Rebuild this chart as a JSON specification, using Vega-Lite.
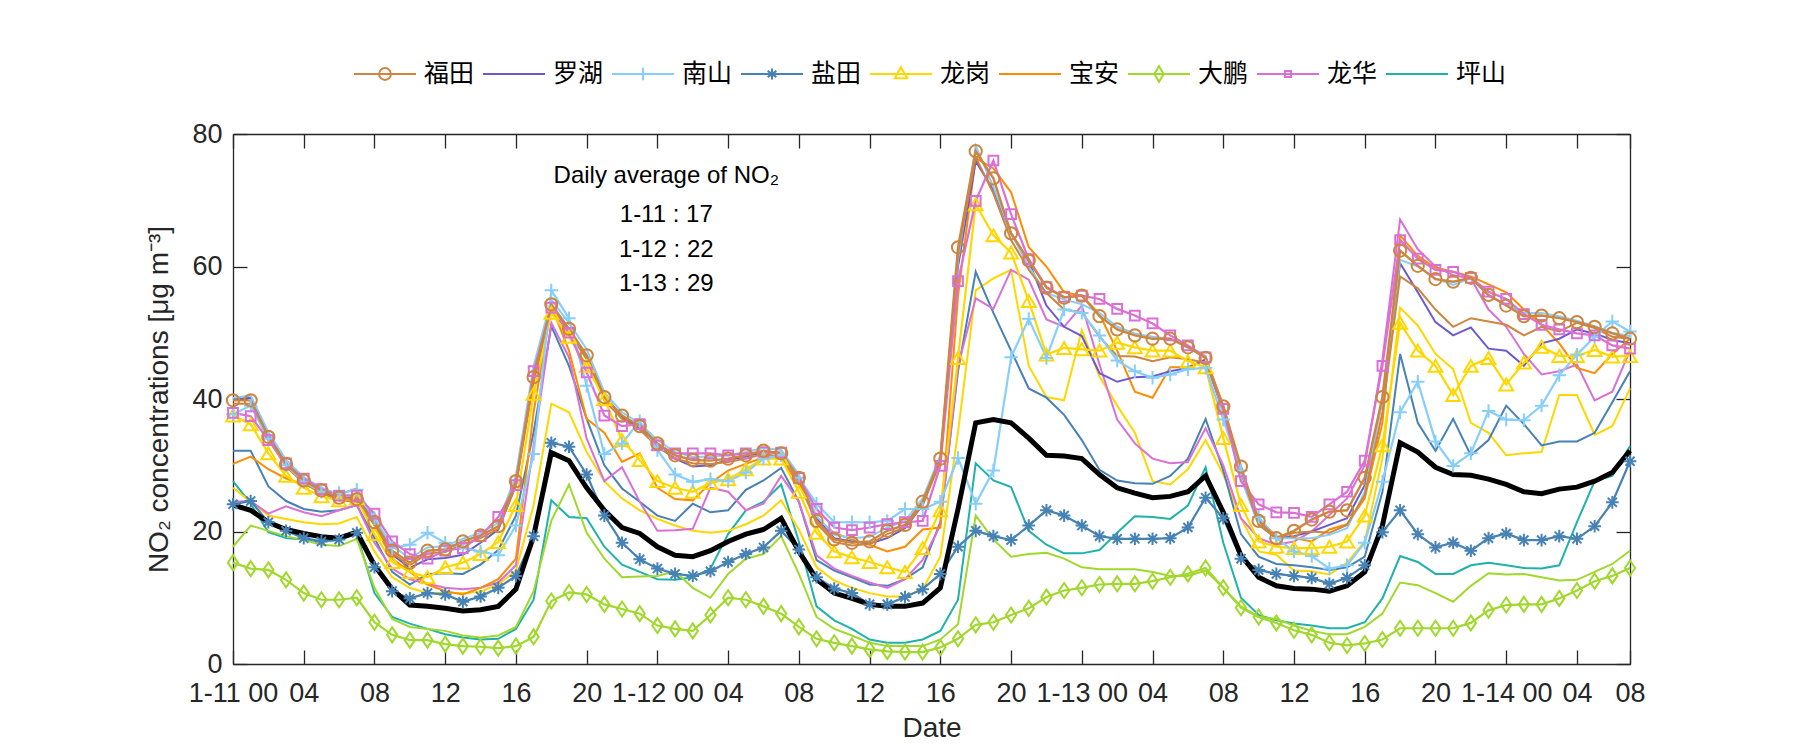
{
"$schema":"https://vega.github.io/schema/vega-lite/v6.json",
"width":1397,"height":530,
"autosize":{"type":"none"},
"padding":{"left":233,"top":134,"right":170,"bottom":86},
"background":"white",
"datasets":{
"F1":[{"hour":0,"no2":39.8},{"hour":1,"no2":39.8},{"hour":2,"no2":34.3},{"hour":3,"no2":30.2},{"hour":4,"no2":27.7},{"hour":5,"no2":26.2},{"hour":6,"no2":25.1},{"hour":7,"no2":24.9},{"hour":8,"no2":21.4},{"hour":9,"no2":17.1},{"hour":10,"no2":15.3},{"hour":11,"no2":17.1},{"hour":12,"no2":17.3},{"hour":13,"no2":18.5},{"hour":14,"no2":19.4},{"hour":15,"no2":20.8},{"hour":16,"no2":27.6},{"hour":17,"no2":43.3},{"hour":18,"no2":54.3},{"hour":19,"no2":50.6},{"hour":20,"no2":46.6},{"hour":21,"no2":40.3},{"hour":22,"no2":37.5},{"hour":23,"no2":35.9},{"hour":24,"no2":33.3},{"hour":25,"no2":31.5},{"hour":26,"no2":30.8},{"hour":27,"no2":30.7},{"hour":28,"no2":31.0},{"hour":29,"no2":31.5},{"hour":30,"no2":32.2},{"hour":31,"no2":31.8},{"hour":32,"no2":28.1},{"hour":33,"no2":21.6},{"hour":34,"no2":18.8},{"hour":35,"no2":18.3},{"hour":36,"no2":18.5},{"hour":37,"no2":20.1},{"hour":38,"no2":21.0},{"hour":39,"no2":24.5},{"hour":40,"no2":31.0},{"hour":41,"no2":62.9},{"hour":42,"no2":77.4},{"hour":43,"no2":73.3},{"hour":44,"no2":65.0},{"hour":45,"no2":60.9},{"hour":46,"no2":56.8},{"hour":47,"no2":55.3},{"hour":48,"no2":55.6},{"hour":49,"no2":52.5},{"hour":50,"no2":50.5},{"hour":51,"no2":49.6},{"hour":52,"no2":49.1},{"hour":53,"no2":49.1},{"hour":54,"no2":47.8},{"hour":55,"no2":46.2},{"hour":56,"no2":38.9},{"hour":57,"no2":29.8},{"hour":58,"no2":21.6},{"hour":59,"no2":19.0},{"hour":60,"no2":20.1},{"hour":61,"no2":21.8},{"hour":62,"no2":23.0},{"hour":63,"no2":23.2},{"hour":64,"no2":28.1},{"hour":65,"no2":40.3},{"hour":66,"no2":62.4},{"hour":67,"no2":60.1},{"hour":68,"no2":58.1},{"hour":69,"no2":57.7},{"hour":70,"no2":58.3},{"hour":71,"no2":55.7},{"hour":72,"no2":54.1},{"hour":73,"no2":52.5},{"hour":74,"no2":52.6},{"hour":75,"no2":52.2},{"hour":76,"no2":51.6},{"hour":77,"no2":50.9},{"hour":78,"no2":49.9},{"hour":79,"no2":49.1}],
"F2":[{"hour":0,"no2":39.3},{"hour":1,"no2":39.3},{"hour":2,"no2":33.9},{"hour":3,"no2":29.8},{"hour":4,"no2":27.3},{"hour":5,"no2":25.8},{"hour":6,"no2":24.7},{"hour":7,"no2":24.5},{"hour":8,"no2":21.0},{"hour":9,"no2":16.7},{"hour":10,"no2":14.9},{"hour":11,"no2":16.7},{"hour":12,"no2":16.9},{"hour":13,"no2":18.1},{"hour":14,"no2":19.0},{"hour":15,"no2":20.4},{"hour":16,"no2":27.0},{"hour":17,"no2":42.5},{"hour":18,"no2":53.5},{"hour":19,"no2":50.0},{"hour":20,"no2":46.0},{"hour":21,"no2":39.8},{"hour":22,"no2":37.0},{"hour":23,"no2":35.4},{"hour":24,"no2":32.8},{"hour":25,"no2":31.0},{"hour":26,"no2":30.3},{"hour":27,"no2":30.2},{"hour":28,"no2":30.5},{"hour":29,"no2":31.0},{"hour":30,"no2":31.7},{"hour":31,"no2":31.3},{"hour":32,"no2":27.6},{"hour":33,"no2":21.2},{"hour":34,"no2":18.4},{"hour":35,"no2":17.9},{"hour":36,"no2":18.1},{"hour":37,"no2":19.6},{"hour":38,"no2":20.6},{"hour":39,"no2":24.0},{"hour":40,"no2":30.5},{"hour":41,"no2":62.0},{"hour":42,"no2":76.5},{"hour":43,"no2":71.0},{"hour":44,"no2":64.0},{"hour":45,"no2":59.5},{"hour":46,"no2":56.0},{"hour":47,"no2":53.5},{"hour":48,"no2":53.1},{"hour":49,"no2":49.4},{"hour":50,"no2":46.5},{"hour":51,"no2":46.4},{"hour":52,"no2":45.7},{"hour":53,"no2":46.3},{"hour":54,"no2":46.0},{"hour":55,"no2":45.5},{"hour":56,"no2":38.5},{"hour":57,"no2":29.0},{"hour":58,"no2":21.0},{"hour":59,"no2":19.0},{"hour":60,"no2":19.8},{"hour":61,"no2":20.0},{"hour":62,"no2":19.8},{"hour":63,"no2":21.0},{"hour":64,"no2":25.5},{"hour":65,"no2":38.0},{"hour":66,"no2":58.5},{"hour":67,"no2":56.7},{"hour":68,"no2":53.5},{"hour":69,"no2":50.9},{"hour":70,"no2":52.2},{"hour":71,"no2":51.7},{"hour":72,"no2":51.2},{"hour":73,"no2":49.6},{"hour":74,"no2":50.9},{"hour":75,"no2":50.2},{"hour":76,"no2":51.5},{"hour":77,"no2":50.7},{"hour":78,"no2":49.4},{"hour":79,"no2":49.1}],
"R":[{"hour":0,"no2":40.0},{"hour":1,"no2":40.2},{"hour":2,"no2":34.5},{"hour":3,"no2":30.3},{"hour":4,"no2":27.8},{"hour":5,"no2":26.0},{"hour":6,"no2":25.0},{"hour":7,"no2":25.2},{"hour":8,"no2":21.5},{"hour":9,"no2":16.5},{"hour":10,"no2":14.5},{"hour":11,"no2":15.8},{"hour":12,"no2":16.0},{"hour":13,"no2":16.5},{"hour":14,"no2":18.3},{"hour":15,"no2":20.3},{"hour":16,"no2":27.0},{"hour":17,"no2":44.0},{"hour":18,"no2":53.5},{"hour":19,"no2":50.5},{"hour":20,"no2":46.5},{"hour":21,"no2":40.5},{"hour":22,"no2":37.3},{"hour":23,"no2":35.5},{"hour":24,"no2":33.0},{"hour":25,"no2":31.0},{"hour":26,"no2":29.8},{"hour":27,"no2":30.0},{"hour":28,"no2":30.8},{"hour":29,"no2":31.3},{"hour":30,"no2":32.0},{"hour":31,"no2":31.8},{"hour":32,"no2":28.0},{"hour":33,"no2":22.0},{"hour":34,"no2":19.0},{"hour":35,"no2":18.5},{"hour":36,"no2":18.2},{"hour":37,"no2":19.0},{"hour":38,"no2":20.5},{"hour":39,"no2":24.0},{"hour":40,"no2":31.0},{"hour":41,"no2":60.0},{"hour":42,"no2":75.9},{"hour":43,"no2":71.5},{"hour":44,"no2":65.0},{"hour":45,"no2":60.8},{"hour":46,"no2":54.1},{"hour":47,"no2":50.9},{"hour":48,"no2":49.5},{"hour":49,"no2":43.9},{"hour":50,"no2":42.6},{"hour":51,"no2":43.3},{"hour":52,"no2":43.4},{"hour":53,"no2":44.2},{"hour":54,"no2":44.7},{"hour":55,"no2":45.9},{"hour":56,"no2":38.0},{"hour":57,"no2":29.0},{"hour":58,"no2":21.6},{"hour":59,"no2":18.9},{"hour":60,"no2":19.3},{"hour":61,"no2":20.0},{"hour":62,"no2":21.0},{"hour":63,"no2":22.0},{"hour":64,"no2":27.0},{"hour":65,"no2":40.0},{"hour":66,"no2":60.5},{"hour":67,"no2":56.1},{"hour":68,"no2":51.6},{"hour":69,"no2":49.6},{"hour":70,"no2":50.8},{"hour":71,"no2":47.6},{"hour":72,"no2":47.3},{"hour":73,"no2":45.0},{"hour":74,"no2":48.4},{"hour":75,"no2":49.1},{"hour":76,"no2":50.5},{"hour":77,"no2":49.9},{"hour":78,"no2":48.9},{"hour":79,"no2":48.4}],
"N1":[{"hour":0,"no2":37.7},{"hour":1,"no2":39.0},{"hour":2,"no2":34.0},{"hour":3,"no2":30.0},{"hour":4,"no2":27.5},{"hour":5,"no2":26.0},{"hour":6,"no2":25.8},{"hour":7,"no2":26.3},{"hour":8,"no2":22.0},{"hour":9,"no2":17.5},{"hour":10,"no2":18.0},{"hour":11,"no2":19.8},{"hour":12,"no2":18.3},{"hour":13,"no2":17.5},{"hour":14,"no2":17.0},{"hour":15,"no2":16.4},{"hour":16,"no2":20.9},{"hour":17,"no2":31.7},{"hour":18,"no2":56.4},{"hour":19,"no2":52.2},{"hour":20,"no2":42.0},{"hour":21,"no2":31.7},{"hour":22,"no2":33.3},{"hour":23,"no2":36.7},{"hour":24,"no2":32.3},{"hour":25,"no2":28.6},{"hour":26,"no2":27.5},{"hour":27,"no2":27.9},{"hour":28,"no2":27.6},{"hour":29,"no2":28.9},{"hour":30,"no2":31.0},{"hour":31,"no2":31.5},{"hour":32,"no2":28.1},{"hour":33,"no2":24.2},{"hour":34,"no2":21.4},{"hour":35,"no2":21.4},{"hour":36,"no2":21.4},{"hour":37,"no2":21.6},{"hour":38,"no2":23.4},{"hour":39,"no2":23.4},{"hour":40,"no2":24.5},{"hour":41,"no2":31.1},{"hour":42,"no2":24.2},{"hour":43,"no2":29.2},{"hour":44,"no2":46.3},{"hour":45,"no2":52.1},{"hour":46,"no2":46.2},{"hour":47,"no2":53.5},{"hour":48,"no2":53.0},{"hour":49,"no2":49.6},{"hour":50,"no2":45.8},{"hour":51,"no2":44.2},{"hour":52,"no2":43.2},{"hour":53,"no2":43.7},{"hour":54,"no2":44.5},{"hour":55,"no2":44.7},{"hour":56,"no2":36.9},{"hour":57,"no2":29.2},{"hour":58,"no2":22.2},{"hour":59,"no2":19.0},{"hour":60,"no2":17.0},{"hour":61,"no2":16.3},{"hour":62,"no2":14.4},{"hour":63,"no2":14.9},{"hour":64,"no2":18.3},{"hour":65,"no2":27.5},{"hour":66,"no2":38.0},{"hour":67,"no2":42.6},{"hour":68,"no2":33.6},{"hour":69,"no2":29.9},{"hour":70,"no2":31.8},{"hour":71,"no2":38.2},{"hour":72,"no2":36.9},{"hour":73,"no2":36.8},{"hour":74,"no2":39.0},{"hour":75,"no2":43.6},{"hour":76,"no2":46.7},{"hour":77,"no2":49.4},{"hour":78,"no2":51.7},{"hour":79,"no2":50.2}],
"N2":[{"hour":0,"no2":40.2},{"hour":1,"no2":40.5},{"hour":2,"no2":35.0},{"hour":3,"no2":30.8},{"hour":4,"no2":28.2},{"hour":5,"no2":26.6},{"hour":6,"no2":25.6},{"hour":7,"no2":25.5},{"hour":8,"no2":22.0},{"hour":9,"no2":17.8},{"hour":10,"no2":16.0},{"hour":11,"no2":17.6},{"hour":12,"no2":17.8},{"hour":13,"no2":18.9},{"hour":14,"no2":19.8},{"hour":15,"no2":21.3},{"hour":16,"no2":28.5},{"hour":17,"no2":45.0},{"hour":18,"no2":55.0},{"hour":19,"no2":51.5},{"hour":20,"no2":47.5},{"hour":21,"no2":41.0},{"hour":22,"no2":38.0},{"hour":23,"no2":36.3},{"hour":24,"no2":33.8},{"hour":25,"no2":32.0},{"hour":26,"no2":31.3},{"hour":27,"no2":31.3},{"hour":28,"no2":31.5},{"hour":29,"no2":32.0},{"hour":30,"no2":32.6},{"hour":31,"no2":32.3},{"hour":32,"no2":28.6},{"hour":33,"no2":22.3},{"hour":34,"no2":19.5},{"hour":35,"no2":19.0},{"hour":36,"no2":19.2},{"hour":37,"no2":20.6},{"hour":38,"no2":21.6},{"hour":39,"no2":25.0},{"hour":40,"no2":31.5},{"hour":41,"no2":61.0},{"hour":42,"no2":78.2},{"hour":43,"no2":72.0},{"hour":44,"no2":65.0},{"hour":45,"no2":60.0},{"hour":46,"no2":56.0},{"hour":47,"no2":55.0},{"hour":48,"no2":54.3},{"hour":49,"no2":53.0},{"hour":50,"no2":50.9},{"hour":51,"no2":49.9},{"hour":52,"no2":49.4},{"hour":53,"no2":49.1},{"hour":54,"no2":48.0},{"hour":55,"no2":46.5},{"hour":56,"no2":38.0},{"hour":57,"no2":28.0},{"hour":58,"no2":21.0},{"hour":59,"no2":19.0},{"hour":60,"no2":19.0},{"hour":61,"no2":19.0},{"hour":62,"no2":19.5},{"hour":63,"no2":20.5},{"hour":64,"no2":26.0},{"hour":65,"no2":40.0},{"hour":66,"no2":61.0},{"hour":67,"no2":60.0},{"hour":68,"no2":58.2},{"hour":69,"no2":57.2},{"hour":70,"no2":58.2},{"hour":71,"no2":55.6},{"hour":72,"no2":54.3},{"hour":73,"no2":53.0},{"hour":74,"no2":53.0},{"hour":75,"no2":52.5},{"hour":76,"no2":51.8},{"hour":77,"no2":51.0},{"hour":78,"no2":50.0},{"hour":79,"no2":49.5}],
"Y1":[{"hour":0,"no2":24.1},{"hour":1,"no2":24.6},{"hour":2,"no2":21.4},{"hour":3,"no2":20.1},{"hour":4,"no2":19.0},{"hour":5,"no2":18.5},{"hour":6,"no2":18.8},{"hour":7,"no2":19.8},{"hour":8,"no2":14.6},{"hour":9,"no2":11.0},{"hour":10,"no2":9.9},{"hour":11,"no2":10.7},{"hour":12,"no2":10.5},{"hour":13,"no2":9.4},{"hour":14,"no2":10.2},{"hour":15,"no2":11.5},{"hour":16,"no2":13.3},{"hour":17,"no2":19.3},{"hour":18,"no2":33.4},{"hour":19,"no2":32.8},{"hour":20,"no2":28.6},{"hour":21,"no2":22.4},{"hour":22,"no2":18.3},{"hour":23,"no2":15.8},{"hour":24,"no2":14.4},{"hour":25,"no2":13.6},{"hour":26,"no2":13.3},{"hour":27,"no2":14.0},{"hour":28,"no2":15.4},{"hour":29,"no2":16.6},{"hour":30,"no2":17.6},{"hour":31,"no2":20.1},{"hour":32,"no2":17.3},{"hour":33,"no2":13.1},{"hour":34,"no2":11.4},{"hour":35,"no2":10.7},{"hour":36,"no2":9.0},{"hour":37,"no2":9.0},{"hour":38,"no2":10.1},{"hour":39,"no2":11.3},{"hour":40,"no2":13.6},{"hour":41,"no2":17.7},{"hour":42,"no2":20.1},{"hour":43,"no2":19.3},{"hour":44,"no2":18.7},{"hour":45,"no2":20.9},{"hour":46,"no2":23.2},{"hour":47,"no2":22.4},{"hour":48,"no2":20.9},{"hour":49,"no2":19.3},{"hour":50,"no2":18.9},{"hour":51,"no2":18.9},{"hour":52,"no2":18.9},{"hour":53,"no2":19.0},{"hour":54,"no2":20.6},{"hour":55,"no2":25.1},{"hour":56,"no2":22.0},{"hour":57,"no2":15.9},{"hour":58,"no2":14.2},{"hour":59,"no2":13.6},{"hour":60,"no2":13.3},{"hour":61,"no2":13.0},{"hour":62,"no2":12.1},{"hour":63,"no2":13.0},{"hour":64,"no2":14.9},{"hour":65,"no2":19.9},{"hour":66,"no2":23.2},{"hour":67,"no2":19.6},{"hour":68,"no2":17.6},{"hour":69,"no2":18.3},{"hour":70,"no2":17.1},{"hour":71,"no2":19.0},{"hour":72,"no2":19.7},{"hour":73,"no2":18.7},{"hour":74,"no2":18.7},{"hour":75,"no2":19.3},{"hour":76,"no2":18.9},{"hour":77,"no2":20.8},{"hour":78,"no2":24.4},{"hour":79,"no2":30.6}],
"Y2":[{"hour":0,"no2":32.2},{"hour":1,"no2":32.2},{"hour":2,"no2":26.8},{"hour":3,"no2":24.6},{"hour":4,"no2":23.4},{"hour":5,"no2":23.0},{"hour":6,"no2":23.2},{"hour":7,"no2":24.0},{"hour":8,"no2":19.0},{"hour":9,"no2":13.9},{"hour":10,"no2":12.0},{"hour":11,"no2":13.6},{"hour":12,"no2":13.7},{"hour":13,"no2":13.6},{"hour":14,"no2":15.0},{"hour":15,"no2":17.2},{"hour":16,"no2":22.4},{"hour":17,"no2":35.0},{"hour":18,"no2":51.0},{"hour":19,"no2":45.0},{"hour":20,"no2":37.0},{"hour":21,"no2":30.0},{"hour":22,"no2":26.5},{"hour":23,"no2":24.5},{"hour":24,"no2":22.4},{"hour":25,"no2":21.6},{"hour":26,"no2":24.2},{"hour":27,"no2":22.9},{"hour":28,"no2":23.2},{"hour":29,"no2":26.3},{"hour":30,"no2":27.7},{"hour":31,"no2":29.6},{"hour":32,"no2":24.5},{"hour":33,"no2":15.7},{"hour":34,"no2":14.1},{"hour":35,"no2":13.1},{"hour":36,"no2":12.0},{"hour":37,"no2":11.8},{"hour":38,"no2":12.8},{"hour":39,"no2":14.6},{"hour":40,"no2":21.4},{"hour":41,"no2":44.2},{"hour":42,"no2":59.2},{"hour":43,"no2":53.0},{"hour":44,"no2":47.3},{"hour":45,"no2":41.6},{"hour":46,"no2":40.2},{"hour":47,"no2":37.6},{"hour":48,"no2":33.8},{"hour":49,"no2":29.3},{"hour":50,"no2":27.7},{"hour":51,"no2":27.3},{"hour":52,"no2":27.2},{"hour":53,"no2":28.4},{"hour":54,"no2":31.0},{"hour":55,"no2":37.0},{"hour":56,"no2":29.2},{"hour":57,"no2":19.6},{"hour":58,"no2":16.2},{"hour":59,"no2":15.1},{"hour":60,"no2":14.9},{"hour":61,"no2":14.6},{"hour":62,"no2":14.2},{"hour":63,"no2":14.6},{"hour":64,"no2":16.2},{"hour":65,"no2":26.0},{"hour":66,"no2":46.8},{"hour":67,"no2":36.4},{"hour":68,"no2":32.2},{"hour":69,"no2":37.0},{"hour":70,"no2":31.5},{"hour":71,"no2":33.8},{"hour":72,"no2":39.0},{"hour":73,"no2":36.2},{"hour":74,"no2":33.0},{"hour":75,"no2":33.6},{"hour":76,"no2":33.6},{"hour":77,"no2":34.9},{"hour":78,"no2":39.5},{"hour":79,"no2":44.2}],
"G1":[{"hour":0,"no2":37.5},{"hour":1,"no2":36.2},{"hour":2,"no2":31.8},{"hour":3,"no2":28.4},{"hour":4,"no2":26.6},{"hour":5,"no2":25.3},{"hour":6,"no2":24.7},{"hour":7,"no2":25.0},{"hour":8,"no2":19.6},{"hour":9,"no2":15.4},{"hour":10,"no2":13.9},{"hour":11,"no2":13.1},{"hour":12,"no2":14.6},{"hour":13,"no2":15.3},{"hour":14,"no2":16.6},{"hour":15,"no2":18.4},{"hour":16,"no2":24.0},{"hour":17,"no2":40.8},{"hour":18,"no2":53.0},{"hour":19,"no2":49.4},{"hour":20,"no2":45.0},{"hour":21,"no2":40.0},{"hour":22,"no2":33.8},{"hour":23,"no2":30.8},{"hour":24,"no2":27.6},{"hour":25,"no2":26.6},{"hour":26,"no2":26.0},{"hour":27,"no2":27.3},{"hour":28,"no2":27.9},{"hour":29,"no2":29.4},{"hour":30,"no2":31.0},{"hour":31,"no2":31.0},{"hour":32,"no2":26.0},{"hour":33,"no2":19.8},{"hour":34,"no2":17.0},{"hour":35,"no2":16.1},{"hour":36,"no2":15.4},{"hour":37,"no2":14.6},{"hour":38,"no2":13.9},{"hour":39,"no2":17.5},{"hour":40,"no2":23.2},{"hour":41,"no2":46.2},{"hour":42,"no2":69.4},{"hour":43,"no2":64.7},{"hour":44,"no2":62.1},{"hour":45,"no2":54.8},{"hour":46,"no2":46.7},{"hour":47,"no2":47.7},{"hour":48,"no2":47.5},{"hour":49,"no2":47.3},{"hour":50,"no2":48.5},{"hour":51,"no2":47.8},{"hour":52,"no2":47.3},{"hour":53,"no2":47.3},{"hour":54,"no2":45.7},{"hour":55,"no2":44.8},{"hour":56,"no2":34.1},{"hour":57,"no2":24.0},{"hour":58,"no2":18.5},{"hour":59,"no2":17.7},{"hour":60,"no2":17.5},{"hour":61,"no2":17.5},{"hour":62,"no2":17.7},{"hour":63,"no2":18.5},{"hour":64,"no2":22.4},{"hour":65,"no2":33.0},{"hour":66,"no2":51.5},{"hour":67,"no2":47.3},{"hour":68,"no2":45.0},{"hour":69,"no2":40.6},{"hour":70,"no2":45.0},{"hour":71,"no2":46.2},{"hour":72,"no2":42.2},{"hour":73,"no2":45.5},{"hour":74,"no2":47.9},{"hour":75,"no2":46.5},{"hour":76,"no2":46.5},{"hour":77,"no2":47.4},{"hour":78,"no2":46.4},{"hour":79,"no2":46.5}],
"G2":[{"hour":0,"no2":26.6},{"hour":1,"no2":24.5},{"hour":2,"no2":22.4},{"hour":3,"no2":21.9},{"hour":4,"no2":21.4},{"hour":5,"no2":21.1},{"hour":6,"no2":21.2},{"hour":7,"no2":22.2},{"hour":8,"no2":17.0},{"hour":9,"no2":13.1},{"hour":10,"no2":11.5},{"hour":11,"no2":10.7},{"hour":12,"no2":10.7},{"hour":13,"no2":10.7},{"hour":14,"no2":10.9},{"hour":15,"no2":12.0},{"hour":16,"no2":14.1},{"hour":17,"no2":24.0},{"hour":18,"no2":39.3},{"hour":19,"no2":38.0},{"hour":20,"no2":32.0},{"hour":21,"no2":27.6},{"hour":22,"no2":25.0},{"hour":23,"no2":23.2},{"hour":24,"no2":21.9},{"hour":25,"no2":20.9},{"hour":26,"no2":20.1},{"hour":27,"no2":19.8},{"hour":28,"no2":20.1},{"hour":29,"no2":21.1},{"hour":30,"no2":22.4},{"hour":31,"no2":24.7},{"hour":32,"no2":20.3},{"hour":33,"no2":14.6},{"hour":34,"no2":12.6},{"hour":35,"no2":11.5},{"hour":36,"no2":10.7},{"hour":37,"no2":10.2},{"hour":38,"no2":10.2},{"hour":39,"no2":11.3},{"hour":40,"no2":16.2},{"hour":41,"no2":35.0},{"hour":42,"no2":56.4},{"hour":43,"no2":58.2},{"hour":44,"no2":59.5},{"hour":45,"no2":45.0},{"hour":46,"no2":40.3},{"hour":47,"no2":39.8},{"hour":48,"no2":50.4},{"hour":49,"no2":43.4},{"hour":50,"no2":39.0},{"hour":51,"no2":34.9},{"hour":52,"no2":27.6},{"hour":53,"no2":27.1},{"hour":54,"no2":29.4},{"hour":55,"no2":33.8},{"hour":56,"no2":28.6},{"hour":57,"no2":22.0},{"hour":58,"no2":17.0},{"hour":59,"no2":16.5},{"hour":60,"no2":14.1},{"hour":61,"no2":14.0},{"hour":62,"no2":13.5},{"hour":63,"no2":15.3},{"hour":64,"no2":18.5},{"hour":65,"no2":31.0},{"hour":66,"no2":53.8},{"hour":67,"no2":51.1},{"hour":68,"no2":46.8},{"hour":69,"no2":44.5},{"hour":70,"no2":36.4},{"hour":71,"no2":34.9},{"hour":72,"no2":31.5},{"hour":73,"no2":31.8},{"hour":74,"no2":32.0},{"hour":75,"no2":40.6},{"hour":76,"no2":40.6},{"hour":77,"no2":34.6},{"hour":78,"no2":35.9},{"hour":79,"no2":41.6}],
"B":[{"hour":0,"no2":30.2},{"hour":1,"no2":31.3},{"hour":2,"no2":29.4},{"hour":3,"no2":28.0},{"hour":4,"no2":27.1},{"hour":5,"no2":26.2},{"hour":6,"no2":25.6},{"hour":7,"no2":26.5},{"hour":8,"no2":20.9},{"hour":9,"no2":15.9},{"hour":10,"no2":13.9},{"hour":11,"no2":12.0},{"hour":12,"no2":11.0},{"hour":13,"no2":10.5},{"hour":14,"no2":11.5},{"hour":15,"no2":12.8},{"hour":16,"no2":15.9},{"hour":17,"no2":38.0},{"hour":18,"no2":54.0},{"hour":19,"no2":47.3},{"hour":20,"no2":37.0},{"hour":21,"no2":34.9},{"hour":22,"no2":30.5},{"hour":23,"no2":31.8},{"hour":24,"no2":26.6},{"hour":25,"no2":24.9},{"hour":26,"no2":24.7},{"hour":27,"no2":27.3},{"hour":28,"no2":29.2},{"hour":29,"no2":30.2},{"hour":30,"no2":31.2},{"hour":31,"no2":31.0},{"hour":32,"no2":27.1},{"hour":33,"no2":21.9},{"hour":34,"no2":19.8},{"hour":35,"no2":18.8},{"hour":36,"no2":18.0},{"hour":37,"no2":17.0},{"hour":38,"no2":17.7},{"hour":39,"no2":20.3},{"hour":40,"no2":20.6},{"hour":41,"no2":55.6},{"hour":42,"no2":76.4},{"hour":43,"no2":74.8},{"hour":44,"no2":71.2},{"hour":45,"no2":62.9},{"hour":46,"no2":60.0},{"hour":47,"no2":56.1},{"hour":48,"no2":55.6},{"hour":49,"no2":52.8},{"hour":50,"no2":47.3},{"hour":51,"no2":41.1},{"hour":52,"no2":40.2},{"hour":53,"no2":44.8},{"hour":54,"no2":44.8},{"hour":55,"no2":46.0},{"hour":56,"no2":39.0},{"hour":57,"no2":29.2},{"hour":58,"no2":21.9},{"hour":59,"no2":19.3},{"hour":60,"no2":19.0},{"hour":61,"no2":18.5},{"hour":62,"no2":20.3},{"hour":63,"no2":21.1},{"hour":64,"no2":25.0},{"hour":65,"no2":36.4},{"hour":66,"no2":64.7},{"hour":67,"no2":61.6},{"hour":68,"no2":59.8},{"hour":69,"no2":59.2},{"hour":70,"no2":58.5},{"hour":71,"no2":57.3},{"hour":72,"no2":56.1},{"hour":73,"no2":53.5},{"hour":74,"no2":51.2},{"hour":75,"no2":48.4},{"hour":76,"no2":44.7},{"hour":77,"no2":43.9},{"hour":78,"no2":46.8},{"hour":79,"no2":49.1}],
"D1":[{"hour":0,"no2":15.3},{"hour":1,"no2":14.4},{"hour":2,"no2":14.2},{"hour":3,"no2":12.7},{"hour":4,"no2":10.7},{"hour":5,"no2":9.7},{"hour":6,"no2":9.7},{"hour":7,"no2":10.0},{"hour":8,"no2":6.3},{"hour":9,"no2":4.4},{"hour":10,"no2":3.6},{"hour":11,"no2":3.6},{"hour":12,"no2":3.0},{"hour":13,"no2":2.7},{"hour":14,"no2":2.6},{"hour":15,"no2":2.4},{"hour":16,"no2":2.7},{"hour":17,"no2":4.1},{"hour":18,"no2":9.5},{"hour":19,"no2":10.8},{"hour":20,"no2":10.5},{"hour":21,"no2":9.0},{"hour":22,"no2":8.3},{"hour":23,"no2":7.6},{"hour":24,"no2":5.8},{"hour":25,"no2":5.3},{"hour":26,"no2":5.0},{"hour":27,"no2":7.4},{"hour":28,"no2":10.0},{"hour":29,"no2":9.7},{"hour":30,"no2":8.7},{"hour":31,"no2":7.6},{"hour":32,"no2":5.6},{"hour":33,"no2":3.8},{"hour":34,"no2":3.2},{"hour":35,"no2":2.7},{"hour":36,"no2":2.2},{"hour":37,"no2":1.9},{"hour":38,"no2":1.8},{"hour":39,"no2":1.8},{"hour":40,"no2":2.5},{"hour":41,"no2":3.8},{"hour":42,"no2":5.9},{"hour":43,"no2":6.3},{"hour":44,"no2":7.4},{"hour":45,"no2":8.4},{"hour":46,"no2":10.1},{"hour":47,"no2":11.1},{"hour":48,"no2":11.5},{"hour":49,"no2":12.0},{"hour":50,"no2":12.1},{"hour":51,"no2":12.1},{"hour":52,"no2":12.5},{"hour":53,"no2":13.1},{"hour":54,"no2":13.6},{"hour":55,"no2":14.5},{"hour":56,"no2":11.5},{"hour":57,"no2":8.5},{"hour":58,"no2":7.1},{"hour":59,"no2":6.2},{"hour":60,"no2":5.1},{"hour":61,"no2":4.4},{"hour":62,"no2":3.2},{"hour":63,"no2":2.8},{"hour":64,"no2":3.1},{"hour":65,"no2":3.7},{"hour":66,"no2":5.4},{"hour":67,"no2":5.4},{"hour":68,"no2":5.4},{"hour":69,"no2":5.4},{"hour":70,"no2":6.2},{"hour":71,"no2":8.1},{"hour":72,"no2":8.9},{"hour":73,"no2":9.0},{"hour":74,"no2":9.0},{"hour":75,"no2":9.9},{"hour":76,"no2":11.1},{"hour":77,"no2":12.5},{"hour":78,"no2":13.3},{"hour":79,"no2":14.5}],
"D2":[{"hour":0,"no2":17.7},{"hour":1,"no2":20.9},{"hour":2,"no2":20.1},{"hour":3,"no2":19.3},{"hour":4,"no2":18.7},{"hour":5,"no2":18.0},{"hour":6,"no2":17.8},{"hour":7,"no2":18.9},{"hour":8,"no2":11.5},{"hour":9,"no2":6.8},{"hour":10,"no2":5.6},{"hour":11,"no2":5.3},{"hour":12,"no2":5.0},{"hour":13,"no2":4.3},{"hour":14,"no2":4.0},{"hour":15,"no2":4.3},{"hour":16,"no2":5.6},{"hour":17,"no2":11.0},{"hour":18,"no2":21.6},{"hour":19,"no2":27.1},{"hour":20,"no2":19.8},{"hour":21,"no2":15.9},{"hour":22,"no2":13.1},{"hour":23,"no2":13.2},{"hour":24,"no2":13.3},{"hour":25,"no2":14.0},{"hour":26,"no2":11.5},{"hour":27,"no2":10.0},{"hour":28,"no2":13.6},{"hour":29,"no2":15.9},{"hour":30,"no2":16.6},{"hour":31,"no2":19.3},{"hour":32,"no2":13.6},{"hour":33,"no2":7.1},{"hour":34,"no2":5.3},{"hour":35,"no2":4.3},{"hour":36,"no2":3.2},{"hour":37,"no2":2.7},{"hour":38,"no2":2.7},{"hour":39,"no2":2.7},{"hour":40,"no2":3.7},{"hour":41,"no2":6.0},{"hour":42,"no2":22.4},{"hour":43,"no2":18.8},{"hour":44,"no2":16.2},{"hour":45,"no2":16.6},{"hour":46,"no2":16.8},{"hour":47,"no2":15.9},{"hour":48,"no2":14.6},{"hour":49,"no2":14.3},{"hour":50,"no2":14.3},{"hour":51,"no2":14.3},{"hour":52,"no2":13.9},{"hour":53,"no2":13.3},{"hour":54,"no2":13.3},{"hour":55,"no2":14.1},{"hour":56,"no2":11.5},{"hour":57,"no2":8.7},{"hour":58,"no2":7.1},{"hour":59,"no2":6.8},{"hour":60,"no2":5.8},{"hour":61,"no2":5.0},{"hour":62,"no2":4.5},{"hour":63,"no2":4.5},{"hour":64,"no2":5.6},{"hour":65,"no2":7.6},{"hour":66,"no2":12.3},{"hour":67,"no2":11.9},{"hour":68,"no2":10.7},{"hour":69,"no2":9.4},{"hour":70,"no2":11.8},{"hour":71,"no2":13.7},{"hour":72,"no2":13.5},{"hour":73,"no2":13.6},{"hour":74,"no2":13.1},{"hour":75,"no2":12.6},{"hour":76,"no2":12.7},{"hour":77,"no2":13.9},{"hour":78,"no2":15.1},{"hour":79,"no2":17.1}],
"L1":[{"hour":0,"no2":37.9},{"hour":1,"no2":37.4},{"hour":2,"no2":33.8},{"hour":3,"no2":30.3},{"hour":4,"no2":28.0},{"hour":5,"no2":26.4},{"hour":6,"no2":25.4},{"hour":7,"no2":25.4},{"hour":8,"no2":22.7},{"hour":9,"no2":18.5},{"hour":10,"no2":16.6},{"hour":11,"no2":15.9},{"hour":12,"no2":17.1},{"hour":13,"no2":17.5},{"hour":14,"no2":19.3},{"hour":15,"no2":22.2},{"hour":16,"no2":27.0},{"hour":17,"no2":44.2},{"hour":18,"no2":53.8},{"hour":19,"no2":50.0},{"hour":20,"no2":44.0},{"hour":21,"no2":37.5},{"hour":22,"no2":35.9},{"hour":23,"no2":36.2},{"hour":24,"no2":33.0},{"hour":25,"no2":31.8},{"hour":26,"no2":31.8},{"hour":27,"no2":31.8},{"hour":28,"no2":31.5},{"hour":29,"no2":31.8},{"hour":30,"no2":32.0},{"hour":31,"no2":31.9},{"hour":32,"no2":28.1},{"hour":33,"no2":23.4},{"hour":34,"no2":20.6},{"hour":35,"no2":20.2},{"hour":36,"no2":20.6},{"hour":37,"no2":21.1},{"hour":38,"no2":21.4},{"hour":39,"no2":21.6},{"hour":40,"no2":29.9},{"hour":41,"no2":57.8},{"hour":42,"no2":69.9},{"hour":43,"no2":76.0},{"hour":44,"no2":67.9},{"hour":45,"no2":61.1},{"hour":46,"no2":56.9},{"hour":47,"no2":55.4},{"hour":48,"no2":55.6},{"hour":49,"no2":55.1},{"hour":50,"no2":53.6},{"hour":51,"no2":52.6},{"hour":52,"no2":51.4},{"hour":53,"no2":49.6},{"hour":54,"no2":48.1},{"hour":55,"no2":46.3},{"hour":56,"no2":38.5},{"hour":57,"no2":27.6},{"hour":58,"no2":24.1},{"hour":59,"no2":22.9},{"hour":60,"no2":22.8},{"hour":61,"no2":22.2},{"hour":62,"no2":24.1},{"hour":63,"no2":26.0},{"hour":64,"no2":30.7},{"hour":65,"no2":45.0},{"hour":66,"no2":64.0},{"hour":67,"no2":61.2},{"hour":68,"no2":59.5},{"hour":69,"no2":59.2},{"hour":70,"no2":58.3},{"hour":71,"no2":56.2},{"hour":72,"no2":55.1},{"hour":73,"no2":52.8},{"hour":74,"no2":51.2},{"hour":75,"no2":50.5},{"hour":76,"no2":49.9},{"hour":77,"no2":49.6},{"hour":78,"no2":48.1},{"hour":79,"no2":47.6}],
"L2":[{"hour":0,"no2":24.5},{"hour":1,"no2":24.6},{"hour":2,"no2":22.7},{"hour":3,"no2":23.8},{"hour":4,"no2":22.9},{"hour":5,"no2":22.3},{"hour":6,"no2":23.2},{"hour":7,"no2":24.0},{"hour":8,"no2":18.3},{"hour":9,"no2":14.4},{"hour":10,"no2":12.8},{"hour":11,"no2":12.1},{"hour":12,"no2":11.5},{"hour":13,"no2":11.3},{"hour":14,"no2":11.5},{"hour":15,"no2":12.3},{"hour":16,"no2":14.9},{"hour":17,"no2":33.0},{"hour":18,"no2":51.5},{"hour":19,"no2":46.3},{"hour":20,"no2":34.0},{"hour":21,"no2":27.6},{"hour":22,"no2":29.7},{"hour":23,"no2":24.5},{"hour":24,"no2":20.1},{"hour":25,"no2":20.2},{"hour":26,"no2":20.4},{"hour":27,"no2":26.6},{"hour":28,"no2":26.0},{"hour":29,"no2":23.2},{"hour":30,"no2":24.2},{"hour":31,"no2":28.4},{"hour":32,"no2":24.5},{"hour":33,"no2":16.4},{"hour":34,"no2":14.4},{"hour":35,"no2":13.3},{"hour":36,"no2":12.3},{"hour":37,"no2":11.5},{"hour":38,"no2":12.8},{"hour":39,"no2":15.7},{"hour":40,"no2":20.9},{"hour":41,"no2":45.0},{"hour":42,"no2":55.2},{"hour":43,"no2":53.6},{"hour":44,"no2":59.5},{"hour":45,"no2":58.0},{"hour":46,"no2":52.0},{"hour":47,"no2":50.9},{"hour":48,"no2":54.1},{"hour":49,"no2":45.2},{"hour":50,"no2":36.9},{"hour":51,"no2":33.3},{"hour":52,"no2":31.0},{"hour":53,"no2":30.3},{"hour":54,"no2":30.5},{"hour":55,"no2":35.6},{"hour":56,"no2":30.0},{"hour":57,"no2":22.0},{"hour":58,"no2":19.0},{"hour":59,"no2":18.0},{"hour":60,"no2":18.5},{"hour":61,"no2":20.0},{"hour":62,"no2":22.5},{"hour":63,"no2":25.0},{"hour":64,"no2":30.0},{"hour":65,"no2":46.0},{"hour":66,"no2":67.1},{"hour":67,"no2":62.6},{"hour":68,"no2":60.0},{"hour":69,"no2":58.7},{"hour":70,"no2":58.2},{"hour":71,"no2":53.5},{"hour":72,"no2":50.9},{"hour":73,"no2":46.8},{"hour":74,"no2":43.7},{"hour":75,"no2":44.2},{"hour":76,"no2":45.2},{"hour":77,"no2":39.8},{"hour":78,"no2":41.1},{"hour":79,"no2":47.3}],
"P":[{"hour":0,"no2":27.6},{"hour":1,"no2":24.2},{"hour":2,"no2":19.9},{"hour":3,"no2":19.0},{"hour":4,"no2":18.8},{"hour":5,"no2":18.5},{"hour":6,"no2":18.7},{"hour":7,"no2":19.6},{"hour":8,"no2":10.7},{"hour":9,"no2":7.1},{"hour":10,"no2":6.1},{"hour":11,"no2":5.3},{"hour":12,"no2":4.5},{"hour":13,"no2":4.0},{"hour":14,"no2":3.7},{"hour":15,"no2":3.8},{"hour":16,"no2":5.3},{"hour":17,"no2":9.7},{"hour":18,"no2":24.7},{"hour":19,"no2":22.2},{"hour":20,"no2":22.0},{"hour":21,"no2":17.7},{"hour":22,"no2":15.0},{"hour":23,"no2":13.9},{"hour":24,"no2":12.8},{"hour":25,"no2":12.7},{"hour":26,"no2":13.1},{"hour":27,"no2":14.4},{"hour":28,"no2":19.6},{"hour":29,"no2":23.2},{"hour":30,"no2":24.5},{"hour":31,"no2":27.1},{"hour":32,"no2":18.5},{"hour":33,"no2":8.7},{"hour":34,"no2":6.6},{"hour":35,"no2":5.3},{"hour":36,"no2":3.7},{"hour":37,"no2":3.2},{"hour":38,"no2":3.2},{"hour":39,"no2":3.7},{"hour":40,"no2":5.0},{"hour":41,"no2":9.7},{"hour":42,"no2":30.3},{"hour":43,"no2":27.7},{"hour":44,"no2":26.7},{"hour":45,"no2":20.1},{"hour":46,"no2":18.0},{"hour":47,"no2":16.7},{"hour":48,"no2":16.7},{"hour":49,"no2":17.2},{"hour":50,"no2":19.8},{"hour":51,"no2":22.3},{"hour":52,"no2":22.2},{"hour":53,"no2":21.9},{"hour":54,"no2":23.9},{"hour":55,"no2":29.7},{"hour":56,"no2":18.3},{"hour":57,"no2":10.0},{"hour":58,"no2":7.4},{"hour":59,"no2":6.6},{"hour":60,"no2":6.1},{"hour":61,"no2":5.8},{"hour":62,"no2":5.4},{"hour":63,"no2":5.4},{"hour":64,"no2":6.3},{"hour":65,"no2":9.9},{"hour":66,"no2":16.3},{"hour":67,"no2":15.4},{"hour":68,"no2":13.6},{"hour":69,"no2":13.6},{"hour":70,"no2":14.9},{"hour":71,"no2":15.3},{"hour":72,"no2":14.9},{"hour":73,"no2":14.5},{"hour":74,"no2":14.4},{"hour":75,"no2":14.9},{"hour":76,"no2":21.4},{"hour":77,"no2":27.6},{"hour":78,"no2":28.4},{"hour":79,"no2":32.9}],
"AVG":[{"hour":0,"no2":24.0},{"hour":1,"no2":23.2},{"hour":2,"no2":21.4},{"hour":3,"no2":20.3},{"hour":4,"no2":19.7},{"hour":5,"no2":19.2},{"hour":6,"no2":19.0},{"hour":7,"no2":19.9},{"hour":8,"no2":14.9},{"hour":9,"no2":11.3},{"hour":10,"no2":8.9},{"hour":11,"no2":8.7},{"hour":12,"no2":8.4},{"hour":13,"no2":8.0},{"hour":14,"no2":8.2},{"hour":15,"no2":8.7},{"hour":16,"no2":11.3},{"hour":17,"no2":19.3},{"hour":18,"no2":31.9},{"hour":19,"no2":30.7},{"hour":20,"no2":26.6},{"hour":21,"no2":23.2},{"hour":22,"no2":20.6},{"hour":23,"no2":19.7},{"hour":24,"no2":17.7},{"hour":25,"no2":16.4},{"hour":26,"no2":16.2},{"hour":27,"no2":17.1},{"hour":28,"no2":18.5},{"hour":29,"no2":19.6},{"hour":30,"no2":20.3},{"hour":31,"no2":22.0},{"hour":32,"no2":17.0},{"hour":33,"no2":12.8},{"hour":34,"no2":10.7},{"hour":35,"no2":9.9},{"hour":36,"no2":9.0},{"hour":37,"no2":8.7},{"hour":38,"no2":8.7},{"hour":39,"no2":9.2},{"hour":40,"no2":11.5},{"hour":41,"no2":23.4},{"hour":42,"no2":36.4},{"hour":43,"no2":36.9},{"hour":44,"no2":36.4},{"hour":45,"no2":34.1},{"hour":46,"no2":31.5},{"hour":47,"no2":31.4},{"hour":48,"no2":31.0},{"hour":49,"no2":28.6},{"hour":50,"no2":26.6},{"hour":51,"no2":25.8},{"hour":52,"no2":25.1},{"hour":53,"no2":25.3},{"hour":54,"no2":26.0},{"hour":55,"no2":28.4},{"hour":56,"no2":22.9},{"hour":57,"no2":16.4},{"hour":58,"no2":13.1},{"hour":59,"no2":11.8},{"hour":60,"no2":11.4},{"hour":61,"no2":11.3},{"hour":62,"no2":11.0},{"hour":63,"no2":11.8},{"hour":64,"no2":13.9},{"hour":65,"no2":20.9},{"hour":66,"no2":33.4},{"hour":67,"no2":32.0},{"hour":68,"no2":29.7},{"hour":69,"no2":28.6},{"hour":70,"no2":28.5},{"hour":71,"no2":27.9},{"hour":72,"no2":27.1},{"hour":73,"no2":26.0},{"hour":74,"no2":25.7},{"hour":75,"no2":26.4},{"hour":76,"no2":26.7},{"hour":77,"no2":27.6},{"hour":78,"no2":28.9},{"hour":79,"no2":32.2}]
},
"layer":[
{
"encoding":{
"x":{"field":"hour","type":"quantitative","scale":{"domain":[0,79],"nice":false,"zero":false},
"axis":{"orient":"bottom","values":[0,4,8,12,16,20,24,28,32,36,40,44,48,52,56,60,64,68,72,76,79],"labelExpr":"datum.value==0?'1-11 00':datum.value==24?'1-12 00':datum.value==48?'1-13 00':datum.value==72?'1-14 00':datum.value==79?'08':(datum.value%24<10?'0':'')+(datum.value%24)","labelFlush":false,"labelOverlap":false,"labelPadding":30,"title":"Date","titlePadding":8}},
"y":{"field":"no2","type":"quantitative","scale":{"domain":[0,80],"nice":false},
"axis":{"orient":"left","values":[0,20,40,60,80],"labelPadding":25,"title":"NO₂ concentrations [μg m⁻³]","titlePadding":18}}
},
"layer":[
{"data":{"name":"P"},"mark":{"type":"line","strokeWidth":2},"encoding":{"color":{"datum":"坪山","type":"nominal",
"scale":{"domain":["福田","罗湖","南山","盐田","龙岗","宝安","大鹏","龙华","坪山"],"range":["#CD853F","#6A5ACD","#87CEFA","#4682B4","#FFD700","#FF8C00","#A0D82C","#DA70D6","#20B2AA"]},
"legend":{"orient":"none","legendX":120,"legendY":-92,"direction":"horizontal","columns":9,"title":null,"symbolSize":3844,"symbolStrokeWidth":2,"labelFont":"Noto Sans CJK SC","labelFontSize":25,"labelColor":"black","labelOffset":7,"columnPadding":4,"padding":0,"labelLimit":0,
"encode":{"symbols":{"update":{"fill":{"value":"transparent"},"strokeWidth":{"value":2},"shape":{"signal":"datum.value==='福田'?'M-1,0H1M0.19,0A0.19,0.19 0 1,1 -0.19,0A0.19,0.19 0 1,1 0.19,0':datum.value==='南山'?'M-1,0H1M0,-0.2V0.2':datum.value==='盐田'?'M-1,0H1M0,-0.18V0.18M-0.14,-0.1L0.14,0.1M-0.14,0.1L0.14,-0.1':datum.value==='龙岗'?'M-1,0H1M0,-0.22L0.2,0.14L-0.2,0.14Z':datum.value==='大鹏'?'M-1,0H1M0,-0.25L0.15,0L0,0.25L-0.15,0Z':datum.value==='龙华'?'M-1,0H1M-0.1,-0.1H0.1V0.1H-0.1Z':'M-1,0H1'"}}}}}}}},
{"data":{"name":"D2"},"mark":{"type":"line","strokeWidth":2},"encoding":{"color":{"datum":"大鹏","type":"nominal"}}},
{"data":{"name":"G2"},"mark":{"type":"line","strokeWidth":2},"encoding":{"color":{"datum":"龙岗","type":"nominal"}}},
{"data":{"name":"Y2"},"mark":{"type":"line","strokeWidth":2},"encoding":{"color":{"datum":"盐田","type":"nominal"}}},
{"data":{"name":"L2"},"mark":{"type":"line","strokeWidth":2},"encoding":{"color":{"datum":"龙华","type":"nominal"}}},
{"data":{"name":"B"},"mark":{"type":"line","strokeWidth":2},"encoding":{"color":{"datum":"宝安","type":"nominal"}}},
{"data":{"name":"R"},"mark":{"type":"line","strokeWidth":2},"encoding":{"color":{"datum":"罗湖","type":"nominal"}}},
{"data":{"name":"N2"},"mark":{"type":"line","strokeWidth":2},"encoding":{"color":{"datum":"南山","type":"nominal"}}},
{"data":{"name":"F2"},"mark":{"type":"line","strokeWidth":2},"encoding":{"color":{"datum":"福田","type":"nominal"}}},
{"data":{"name":"D1"},"mark":{"type":"line","strokeWidth":2.2},"encoding":{"color":{"datum":"大鹏","type":"nominal"}}},
{"data":{"name":"Y1"},"mark":{"type":"line","strokeWidth":2.2},"encoding":{"color":{"datum":"盐田","type":"nominal"}}},
{"data":{"name":"G1"},"mark":{"type":"line","strokeWidth":2.2},"encoding":{"color":{"datum":"龙岗","type":"nominal"}}},
{"data":{"name":"N1"},"mark":{"type":"line","strokeWidth":2.2},"encoding":{"color":{"datum":"南山","type":"nominal"}}},
{"data":{"name":"L1"},"mark":{"type":"line","strokeWidth":2.2},"encoding":{"color":{"datum":"龙华","type":"nominal"}}},
{"data":{"name":"F1"},"mark":{"type":"line","strokeWidth":2.4},"encoding":{"color":{"datum":"福田","type":"nominal"}}},
{"data":{"name":"AVG"},"mark":{"type":"line","strokeWidth":5,"color":"black"},"encoding":{}},
{"data":{"name":"D1"},"mark":{"type":"point","filled":false,"opacity":1,"strokeWidth":2,"size":225,"shape":"M0,-1L0.68,0L0,1L-0.68,0Z"},"encoding":{"color":{"datum":"大鹏","type":"nominal"}}},
{"data":{"name":"Y1"},"mark":{"type":"point","filled":false,"opacity":1,"strokeWidth":2,"size":160,"shape":"M-1,0H1M0,-1V1M-0.72,-0.72L0.72,0.72M-0.72,0.72L0.72,-0.72"},"encoding":{"color":{"datum":"盐田","type":"nominal"}}},
{"data":{"name":"G1"},"mark":{"type":"point","filled":false,"opacity":1,"strokeWidth":2,"size":190,"shape":"triangle-up"},"encoding":{"color":{"datum":"龙岗","type":"nominal"}}},
{"data":{"name":"N1"},"mark":{"type":"point","filled":false,"opacity":1,"strokeWidth":2,"size":180,"shape":"M-1,0H1M0,-1V1"},"encoding":{"color":{"datum":"南山","type":"nominal"}}},
{"data":{"name":"L1"},"mark":{"type":"point","filled":false,"opacity":1,"strokeWidth":2,"size":95,"shape":"square"},"encoding":{"color":{"datum":"龙华","type":"nominal"}}},
{"data":{"name":"F1"},"mark":{"type":"point","filled":false,"opacity":1,"strokeWidth":2,"size":150,"shape":"circle"},"encoding":{"color":{"datum":"福田","type":"nominal"}}}
]
},
{
"data":{"name":"AVG"},
"mark":{"type":"line","opacity":0},
"encoding":{
"x":{"field":"hour","type":"quantitative","axis":{"orient":"top","values":[0,4,8,12,16,20,24,28,32,36,40,44,48,52,56,60,64,68,72,76,79],"labels":false,"title":null}},
"y":{"field":"no2","type":"quantitative","axis":{"orient":"right","values":[0,20,40,60,80],"labels":false,"title":null}}
}
},
{"data":{"values":[{}]},"mark":{"type":"text","font":"Liberation Sans","fontSize":24,"align":"center","baseline":"middle","color":"black"},"encoding":{"x":{"datum":24.5,"type":"quantitative","axis":null},"y":{"datum":73.7,"type":"quantitative","axis":null},"text":{"value":"Daily average of NO₂"}}},
{"data":{"values":[{}]},"mark":{"type":"text","font":"Liberation Sans","fontSize":24,"align":"center","baseline":"middle","color":"black"},"encoding":{"x":{"datum":24.5,"type":"quantitative","axis":null},"y":{"datum":67.8,"type":"quantitative","axis":null},"text":{"value":"1-11 : 17"}}},
{"data":{"values":[{}]},"mark":{"type":"text","font":"Liberation Sans","fontSize":24,"align":"center","baseline":"middle","color":"black"},"encoding":{"x":{"datum":24.5,"type":"quantitative","axis":null},"y":{"datum":62.5,"type":"quantitative","axis":null},"text":{"value":"1-12 : 22"}}},
{"data":{"values":[{}]},"mark":{"type":"text","font":"Liberation Sans","fontSize":24,"align":"center","baseline":"middle","color":"black"},"encoding":{"x":{"datum":24.5,"type":"quantitative","axis":null},"y":{"datum":57.4,"type":"quantitative","axis":null},"text":{"value":"1-13 : 29"}}}
],
"resolve":{"axis":{"x":"independent","y":"independent"}},
"config":{
"view":{"stroke":null},
"axis":{"grid":false,"labelFont":"Liberation Sans","titleFont":"Liberation Sans","labelFontSize":27,"titleFontSize":28,"titleFontWeight":"normal","labelColor":"#262626","titleColor":"#262626","domainColor":"#262626","tickColor":"#262626","tickSize":-14,"domainWidth":1.3,"tickWidth":1.3}
}
}
